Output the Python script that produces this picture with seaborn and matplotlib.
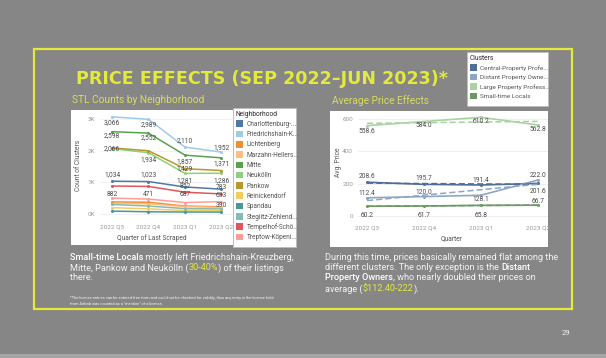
import numpy as np
import pandas as pd
import matplotlib.pyplot as plt
import seaborn as sns
from matplotlib.patches import Rectangle, Patch

W, H = 606, 358

# ---- data -------------------------------------------------------------
quarters = ['2022 Q3', '2022 Q4', '2023 Q1', '2023 Q2']

neighborhoods = ['Charlottenburg-Wilmersdorf', 'Friedrichshain-Kreuzberg', 'Lichtenberg',
                 'Marzahn-Hellersdorf', 'Mitte', 'Neukölln', 'Pankow', 'Reinickendorf',
                 'Spandau', 'Steglitz-Zehlendorf', 'Tempelhof-Schöneberg', 'Treptow-Köpenick']
hood_legend = ['Charlottenburg-...', 'Friedrichshain-K...', 'Lichtenberg', 'Marzahn-Hellers...',
               'Mitte', 'Neukölln', 'Pankow', 'Reinickendorf', 'Spandau', 'Steglitz-Zehlend...',
               'Tempelhof-Schö...', 'Treptow-Köpeni...']
hood_counts = [
    [1034, 1023, 852, 783],
    [3066, 2989, 2110, 1952],
    [380, 370, 250, 230],
    [330, 320, 230, 210],
    [2598, 2552, 1857, 1771],
    [2066, 1934, 1281, 1286],
    [2085, 1995, 1429, 1371],
    [200, 160, 110, 110],
    [90, 70, 60, 60],
    [300, 250, 170, 160],
    [882, 870, 687, 633],
    [500, 471, 360, 390],
]
hood_colors = ['#4e79a7', '#a0cbe8', '#f28e2b', '#ffbe7d', '#59a14f', '#8cd17d',
               '#b6992d', '#f1ce63', '#499894', '#86bcb6', '#e15759', '#ff9d9a']

clusters = ['Central-Property Professionals', 'Distant Property Owners',
            'Large Property Professionals', 'Small-time Locals']
cluster_legend = ['Central-Property Profe...', 'Distant Property Owne...',
                  'Large Property Profess...', 'Small-time Locals']
cluster_prices = [
    [208.6, 195.7, 191.4, 201.6],
    [112.4, 120.0, 128.1, 222.0],
    [558.6, 584.0, 610.2, 562.8],
    [60.2, 61.7, 65.8, 66.7],
]
cluster_colors = ['#4f6f96', '#8ea6c4', '#a9d3a0', '#6a9a62']

# which points carry a data label, and the vertical offset (pt) of that label
hood_labels = [
    ('Friedrichshain-Kreuzberg', 0, -4), ('Friedrichshain-Kreuzberg', 1, -4),
    ('Friedrichshain-Kreuzberg', 2, 5), ('Friedrichshain-Kreuzberg', 3, 3),
    ('Mitte', 0, -3), ('Mitte', 1, -3), ('Mitte', 2, -5),
    ('Neukölln', 0, 0), ('Neukölln', 1, -5), ('Neukölln', 2, -5), ('Neukölln', 3, -5),
    ('Pankow', 2, 0), ('Pankow', 3, 5),
    ('Charlottenburg-Wilmersdorf', 0, 5), ('Charlottenburg-Wilmersdorf', 1, 5),
    ('Charlottenburg-Wilmersdorf', 2, 0), ('Charlottenburg-Wilmersdorf', 3, 1),
    ('Tempelhof-Schöneberg', 0, -6), ('Tempelhof-Schöneberg', 2, -2),
    ('Tempelhof-Schöneberg', 3, -1),
    ('Treptow-Köpenick', 1, 3), ('Treptow-Köpenick', 3, -3),
]
price_label_dy = [
    [4, 4, 3, -6],
    [3, 3, -3, 3],
    [-4, -3, -3, -3],
    [-7, -7, -7, 3],
]

counts_df = pd.DataFrame([
    {'Neighborhood': n, 'qi': qi, 'Count': v}
    for n, row in zip(neighborhoods, hood_counts) for qi, v in enumerate(row)
])
price_df = pd.DataFrame([
    {'Cluster': c, 'qi': qi, 'Price': v}
    for c, row in zip(clusters, cluster_prices) for qi, v in enumerate(row)
])

# ---- figure -----------------------------------------------------------
sns.set_style('white')
plt.rcParams['font.family'] = ['Roboto', 'DejaVu Sans']

BG = '#868686'
YEL = '#e3ea3c'
SUB = '#d9dc5e'

fig = plt.figure(figsize=(W / 100, H / 100), dpi=100)
fig.patch.set_facecolor(BG)


def fbox(x0, y0, x1, y1):
    return [x0 / W, 1 - y1 / H, (x1 - x0) / W, (y1 - y0) / H]


def fxy(x, y):
    return x / W, 1 - y / H


def panel(x0, y0, x1, y1, ec='none'):
    fig.add_artist(Rectangle((x0 / W, 1 - y1 / H), (x1 - x0) / W, (y1 - y0) / H,
                             transform=fig.transFigure, fc='white', ec=ec, lw=0.5, zorder=0))


# yellow frame + bottom strip
fig.add_artist(Rectangle(fxy(34, 309), (572 - 34) / W, (309 - 49) / H, transform=fig.transFigure,
                         fc='none', ec=YEL, lw=1.6, zorder=0))
fig.add_artist(Rectangle((0, 0), 1, 4 / H, transform=fig.transFigure, fc='#a4a4a4', ec='none'))

fig.text(*fxy(76, 79), 'PRICE EFFECTS (SEP 2022–JUN 2023)*', color=YEL, fontsize=12.6,
         fontweight='bold', family=['DejaVu Sans'], va='center', ha='left')
fig.text(*fxy(72, 100), 'STL Counts by Neighborhood', color=SUB, fontsize=7.3, va='center')
fig.text(*fxy(332, 101), 'Average Price Effects', color=SUB, fontsize=7.3, va='center')

# white panels
panel(71, 110, 233, 245)
panel(233, 108, 296, 247, ec='#bbbbbb')
panel(330, 111, 548, 247)
panel(467, 52, 548, 106, ec='#bbbbbb')

tick_kw = dict(labelsize=4.6, colors='#9a9a9a', length=0)

# ---- left chart: counts ------------------------------------------------
ax1 = fig.add_axes(fbox(100, 111, 232, 220))
ax1.set_facecolor('none')
sns.lineplot(data=counts_df, x='qi', y='Count', hue='Neighborhood', hue_order=neighborhoods,
             palette=dict(zip(neighborhoods, hood_colors)), marker='o', markersize=2.2,
             markeredgewidth=0, linewidth=1.1, legend=False, ax=ax1)
ax1.set_xlim(-0.33, 3.29)
ax1.set_ylim(-190, 3250)
ax1.set_xticks(range(4), quarters)
ax1.set_yticks([0, 1000, 2000, 3000], ['0K', '1K', '2K', '3K'])
ax1.tick_params(**tick_kw)
ax1.grid(axis='y', color='#f0f0f0', lw=0.6)
for s in ax1.spines.values():
    s.set_visible(False)
ax1.set_xlabel('')
ax1.set_ylabel('')
fig.text(*fxy(78, 165), 'Count of Clusters', rotation=90, fontsize=4.8, color='#555555',
         va='center', ha='center')
fig.text(*fxy(152, 238), 'Quarter of Last Scraped', fontsize=4.8, color='#555555',
         va='center', ha='center')

for n, qi, dy in hood_labels:
    v = hood_counts[neighborhoods.index(n)][qi]
    ax1.annotate(f'{v:,}', (qi, v), xytext=(0, dy), textcoords='offset points',
                 ha='center', va='center', fontsize=4.8, color='#4a4a4a')

# left legend
lax = fig.add_axes(fbox(233, 108, 296, 247))
lax.axis('off')
handles = [Patch(fc=c, ec='none') for c in hood_colors]
leg = lax.legend(handles, hood_legend, title='Neighborhood', loc='upper left', frameon=False,
                 fontsize=4.7, title_fontsize=4.8, handlelength=1.2, handleheight=1.2,
                 handletextpad=0.5, labelspacing=0.42, borderaxespad=0.2, borderpad=0.2)
leg._legend_box.align = 'left'
for t in leg.get_texts():
    t.set_color('#555555')

# ---- right chart: prices -----------------------------------------------
ax2 = fig.add_axes(fbox(358, 111, 548, 221))
ax2.set_facecolor('none')
cpal = dict(zip(clusters, cluster_colors))
sns.lineplot(data=price_df, x='qi', y='Price', hue='Cluster', hue_order=clusters,
             palette=cpal, marker='o', markersize=2.2, markeredgewidth=0, linewidth=1.2,
             legend=False, ax=ax2)
for c in clusters:
    sub = price_df[price_df['Cluster'] == c]
    sns.regplot(data=sub, x='qi', y='Price', scatter=False, ci=None, color=cpal[c],
                line_kws=dict(ls=(0, (4, 2)), lw=1.1), ax=ax2)
ax2.set_xlim(-0.16, 3.18)
ax2.set_ylim(-31, 649)
ax2.set_xticks(range(4), quarters)
ax2.set_yticks([0, 200, 400, 600])
ax2.tick_params(**tick_kw)
ax2.grid(axis='y', color='#ececec', lw=0.6)
for s in ax2.spines.values():
    s.set_visible(False)
ax2.set_xlabel('')
ax2.set_ylabel('')
fig.text(*fxy(338, 162), 'Avg. Price', rotation=90, fontsize=4.8, color='#555555',
         va='center', ha='center')
fig.text(*fxy(452, 239), 'Quarter', fontsize=4.8, color='#555555', va='center', ha='center')

for ci, row in enumerate(cluster_prices):
    for qi, v in enumerate(row):
        ax2.annotate(f'{v:.1f}', (qi, v), xytext=(0, price_label_dy[ci][qi]),
                     textcoords='offset points', ha='center', va='center', fontsize=4.8,
                     color='#4a4a4a')

# right legend
rax = fig.add_axes(fbox(467, 52, 548, 106))
rax.axis('off')
handles = [Patch(fc=c, ec='none') for c in cluster_colors]
leg2 = rax.legend(handles, cluster_legend, title='Clusters', loc='upper left', frameon=False,
                  fontsize=4.6, title_fontsize=4.8, handlelength=1.2, handleheight=1.2,
                  handletextpad=0.5, labelspacing=0.45, borderaxespad=0.2, borderpad=0.2)
leg2._legend_box.align = 'left'
for t in leg2.get_texts():
    t.set_color('#555555')

# ---- commentary text ---------------------------------------------------
renderer = fig.canvas.get_renderer()


def rich_line(x, y, parts, size=6.6):
    for txt, color, weight in parts:
        t = fig.text(*fxy(x, y), txt, color=color, fontsize=size, fontweight=weight,
                     va='center', ha='left')
        x += t.get_window_extent(renderer=renderer).width


WHT = '#f4f4f4'
rich_line(70, 258, [('Small-time Locals', 'white', 'medium'),
                    (' mostly left Friedrichshain-Kreuzberg,', WHT, 'normal')])
rich_line(70, 268, [('Mitte, Pankow and Neukölln (', WHT, 'normal'), ('30-40%', YEL, 'normal'),
                    (') of their listings', WHT, 'normal')])
rich_line(70, 278, [('there.', WHT, 'normal')])
fig.text(*fxy(70, 298), '*The license entries can be entered free form and could not be checked '
         'for validity, thus any entry in the license field', fontsize=2.9, color=WHT, va='center')
fig.text(*fxy(70, 304), 'from Airbnb was counted as a "mention" of a license.', fontsize=2.9,
         color=WHT, va='center')

rich_line(325, 258, [('During this time, prices basically remained flat among the', WHT, 'normal')])
rich_line(325, 268, [('different clusters. The only exception is the ', WHT, 'normal'),
                     ('Distant', 'white', 'medium')])
rich_line(325, 278, [('Property Owners', 'white', 'medium'),
                     (', who nearly doubled their prices on', WHT, 'normal')])
rich_line(325, 289, [('average (', WHT, 'normal'), ('$112.40-222', YEL, 'normal'),
                     (').', WHT, 'normal')])

fig.text(*fxy(566, 333), '29', fontsize=5.5, color=WHT, va='center', ha='center')

fig.savefig('out.png', dpi=100, facecolor=BG)
